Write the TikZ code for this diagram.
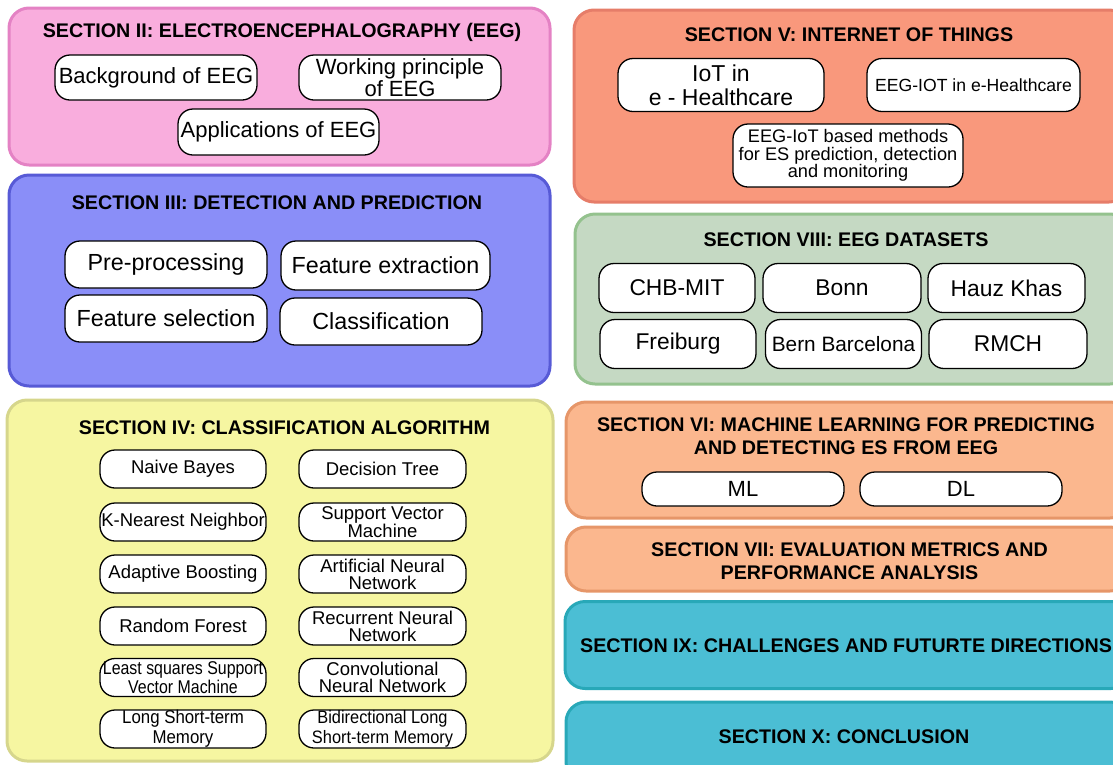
\documentclass[tikz,border=0pt]{standalone}
\usepackage{fontspec}
\setmainfont{Liberation Sans}
\newfontfamily\narrowA[FakeStretch=0.86]{Liberation Sans}
\newfontfamily\narrowB[FakeStretch=0.91]{Liberation Sans}
\newcommand\fsz[2]{\fontsize{#1}{#2}\selectfont}

\definecolor{pinkF}{HTML}{F9ADDD}\definecolor{pinkB}{HTML}{E482C4}
\definecolor{blueF}{HTML}{8A8EF8}\definecolor{blueB}{HTML}{575AD6}
\definecolor{yellF}{HTML}{F6F6A1}\definecolor{yellB}{HTML}{D6D68C}
\definecolor{salmF}{HTML}{F9987C}\definecolor{salmB}{HTML}{E67D69}
\definecolor{grnF}{HTML}{C5D9C3}\definecolor{grnB}{HTML}{94C28E}
\definecolor{peachF}{HTML}{FBB78E}\definecolor{peachB}{HTML}{E69669}
\definecolor{tealF}{HTML}{4BBED4}\definecolor{tealB}{HTML}{28A8B8}

\tikzset{
  panel/.style={rounded corners=20pt, line width=3pt, inner sep=0pt},
  pill/.style={draw=black, fill=white, line width=1.3pt, rounded corners=15pt,
    inner sep=0pt, align=center},
  sectitle/.style={font=\bfseries\fsz{19.7}{23}, align=center, inner sep=0pt},
}

\begin{document}
\begin{tikzpicture}[x=1pt, y=-1pt]
\useasboundingbox (0,0) rectangle (1113,764);
\clip (0,0) rectangle (1113,764);

% ---- Section II
\node[panel, draw=pinkB, fill=pinkF, minimum width=541pt, minimum height=157pt] (p2) at (279.5,86.5) {};
\node[sectitle] (t2) at (282,32) {SECTION II: ELECTROENCEPHALOGRAPHY (EEG)};
\begin{scope}[every node/.append style={font=\fsz{22}{22}}]
\node[pill, minimum width=202pt, minimum height=45pt] (bg) at (156,77.5) {Background of EEG};
\node[pill, minimum width=202pt, minimum height=45pt] (wp) at (400,77.5) {Working principle\\of EEG};
\node[pill, minimum width=201pt, minimum height=46pt] (ap) at (278.5,132) {Applications of EEG};
\end{scope}

% ---- Section III
\node[panel, draw=blueB, fill=blueF, minimum width=541pt, minimum height=211pt] (p3) at (279.5,280.5) {};
\node[sectitle] (t3) at (277,203) {SECTION III: DETECTION AND PREDICTION};
\begin{scope}[every node/.append style={font=\fsz{23.3}{24}}]
\node[pill, minimum width=202pt, minimum height=47pt] (pre) at (166,264.5) {Pre-processing};
\node[pill, minimum width=209pt, minimum height=49pt] (fex) at (385.5,265.5) {Feature extraction};
\node[pill, minimum width=202pt, minimum height=47pt] (fsel) at (166,318.5) {Feature selection};
\node[pill, minimum width=202pt, minimum height=47pt] (cls) at (381,321.5) {Classification};
\end{scope}

% ---- Section IV
\node[panel, draw=yellB, fill=yellF, minimum width=546pt, minimum height=361pt] (p4) at (280,580.5) {};
\node[sectitle] (t4) at (284.5,428) {SECTION IV: CLASSIFICATION ALGORITHM};
\begin{scope}[every node/.append style={font=\fsz{18.5}{17}, minimum height=38pt}]
\node[pill, minimum width=166pt] (nb)   at (183,469)   {Naive Bayes};
\node[pill, minimum width=167pt] (dt)   at (382.5,469) {Decision Tree};
\node[pill, minimum width=166pt] (knn)  at (183,522)   {K-Nearest Neighbor};
\node[pill, minimum width=167pt] (svm)  at (382.5,522) {Support Vector\\Machine};
\node[pill, minimum width=166pt] (ada)  at (183,574)   {Adaptive Boosting};
\node[pill, minimum width=167pt] (ann)  at (382.5,574) {Artificial Neural\\Network};
\node[pill, minimum width=166pt] (rf)   at (183,626)   {Random Forest};
\node[pill, minimum width=167pt] (rnn)  at (382.5,626) {Recurrent Neural\\Network};
\node[pill, minimum width=166pt, font=\narrowA\fsz{18.5}{17}] (ls) at (183,677.5) {Least squares Support\\Vector Machine};
\node[pill, minimum width=167pt] (cnn)  at (382.5,677.5) {Convolutional\\Neural Network};
\node[pill, minimum width=166pt, font=\narrowB\fsz{18.5}{20}] (lstm) at (183,729) {Long Short-term\\Memory};
\node[pill, minimum width=167pt, font=\narrowB\fsz{18}{20}] (bil) at (382.5,729) {Bidirectional Long\\Short-term Memory};
\end{scope}

% ---- Section V
\node[panel, draw=salmB, fill=salmF, minimum width=555pt, minimum height=192pt] (p5) at (851.5,106) {};
\node[sectitle] (t5) at (849,35) {SECTION V: INTERNET OF THINGS};
\node[pill, minimum width=206pt, minimum height=53pt, font=\fsz{23}{24}] (iot) at (721,85) {IoT in\\e - Healthcare};
\node[pill, minimum width=213pt, minimum height=53pt, font=\fsz{17.6}{18}] (eiot) at (973.5,85) {EEG-IOT in e-Healthcare};
\node[pill, minimum width=230pt, minimum height=63pt, font=\fsz{18.2}{17.5}] (meth) at (848,155.5) {EEG-IoT based methods\\for ES prediction, detection\\and monitoring};

% ---- Section VIII
\node[panel, draw=grnB, fill=grnF, minimum width=555pt, minimum height=170pt] (p8) at (852.5,299) {};
\node[sectitle] (t8) at (846,240) {SECTION VIII: EEG DATASETS};
\begin{scope}[every node/.append style={font=\fsz{22.8}{24}, minimum height=49pt}]
\node[pill, minimum width=156pt] (chb) at (677,288)   {CHB-MIT};
\node[pill, minimum width=158pt] (bon) at (842,288)   {Bonn};
\node[pill, minimum width=157pt] (hk)  at (1006.5,288) {Hauz Khas};
\node[pill, minimum width=156pt] (fr)  at (678,344)   {Freiburg};
\node[pill, minimum width=156pt, font=\fsz{20.8}{24}] (bb) at (843.5,344) {Bern Barcelona};
\node[pill, minimum width=158pt] (rm)  at (1008,344)  {RMCH};
\end{scope}

% ---- Section VI
\node[panel, draw=peachB, fill=peachF, minimum width=564pt, minimum height=116pt] (p6) at (848,460) {};
\node[sectitle] (t6) at (846,436.5) {SECTION VI: MACHINE LEARNING FOR PREDICTING\\AND DETECTING ES FROM EEG};
\node[pill, minimum width=202pt, minimum height=34pt, font=\fsz{22}{22}] (ml) at (743,489) {ML};
\node[pill, minimum width=202pt, minimum height=34pt, font=\fsz{22}{22}] (dl) at (961,489) {DL};

% ---- Section VII
\node[panel, draw=peachB, fill=peachF, minimum width=564pt, minimum height=64pt] (p7) at (848,559) {};
\node[sectitle] (t7) at (849.5,561) {SECTION VII: EVALUATION METRICS AND\\PERFORMANCE ANALYSIS};

% ---- Section IX
\node[panel, draw=tealB, fill=tealF, minimum width=566pt, minimum height=87pt] (p9) at (848,645) {};
\node[sectitle, anchor=west] (t9) at (580,646) {SECTION IX: CHALLENGES AND FUTURTE DIRECTIONS};

% ---- Section X
\node[panel, draw=tealB, fill=tealF, minimum width=564pt, minimum height=80pt] (p10) at (848,742) {};
\node[sectitle] (t10) at (844,737) {SECTION X: CONCLUSION};
\end{tikzpicture}
\end{document}
